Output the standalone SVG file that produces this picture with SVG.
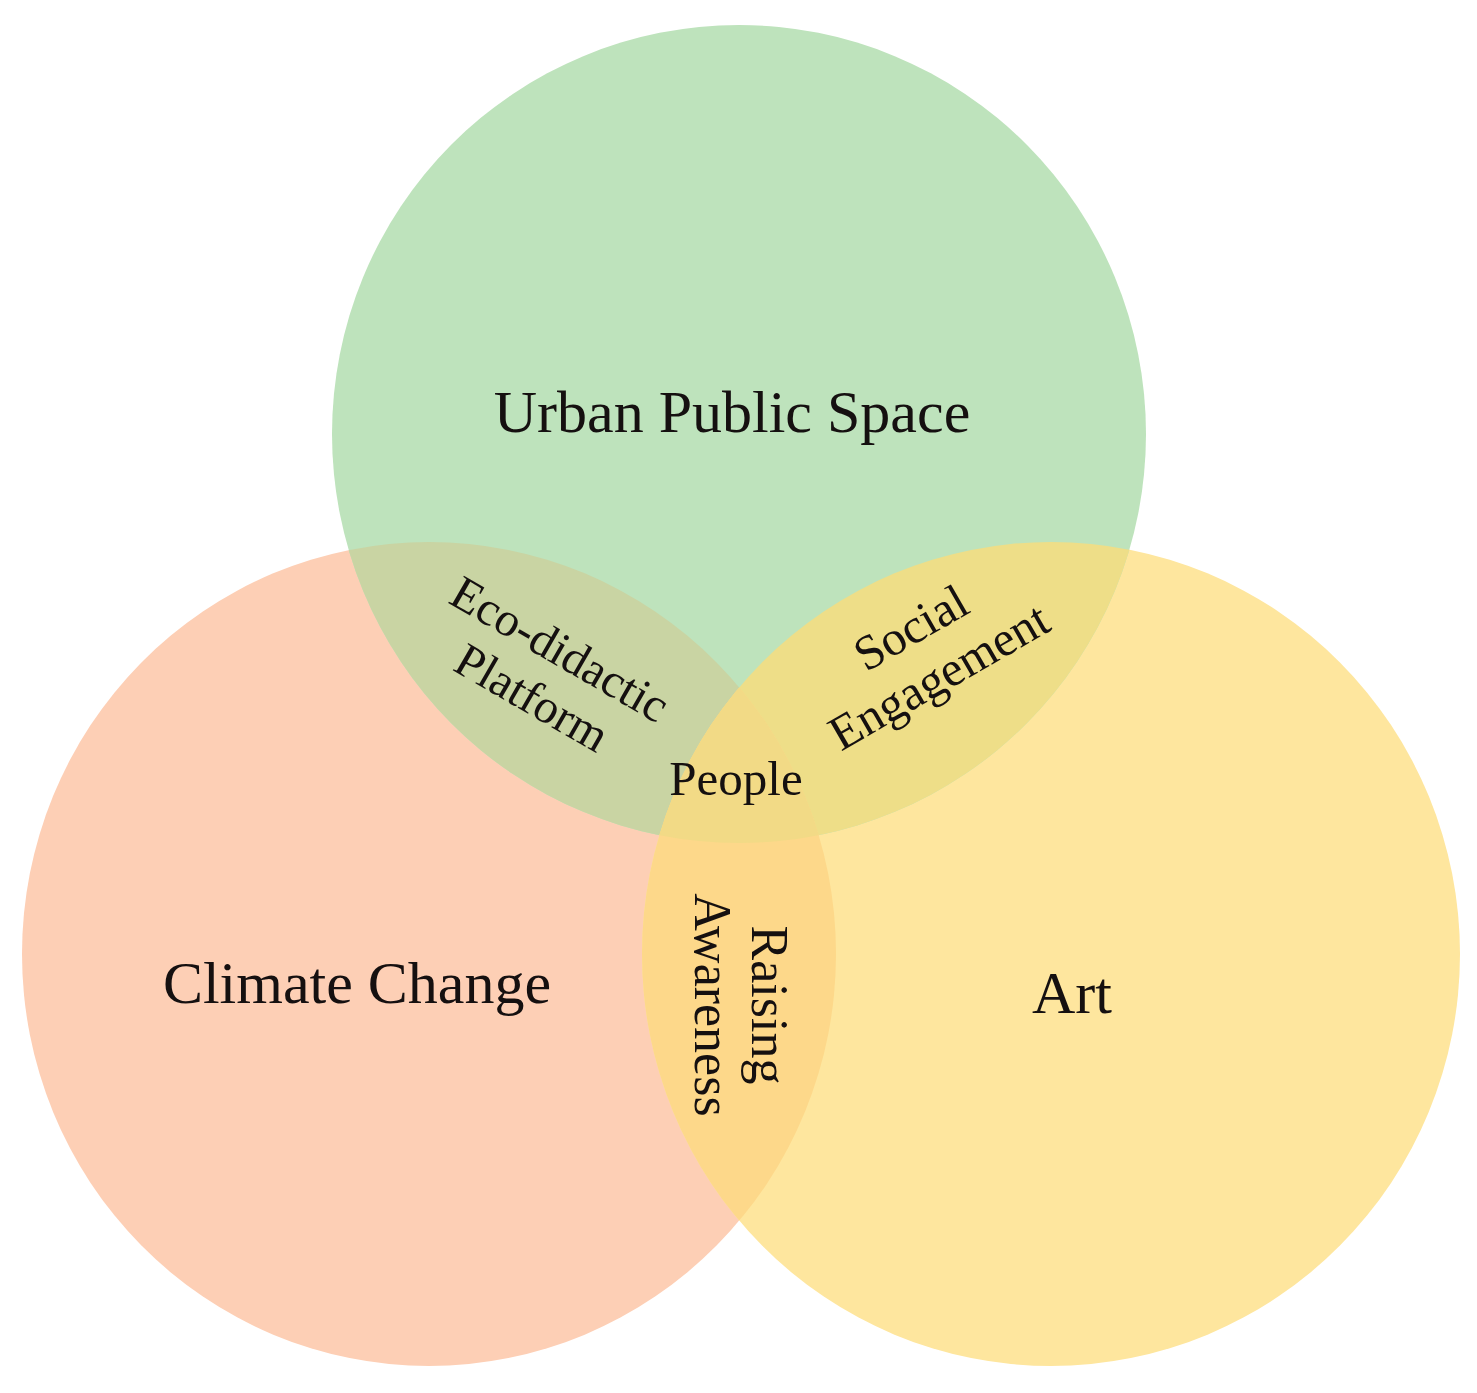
<svg xmlns="http://www.w3.org/2000/svg" width="1477" height="1393" viewBox="0 0 1477 1393">
<style>
  .lbl{font-family:"Liberation Serif","Times New Roman",serif;fill:#151010;text-anchor:middle;}
  .main{font-size:60px;}
  .sub{font-size:49px;}
</style>
<defs>
  <clipPath id="clipG"><ellipse cx="739" cy="434" rx="407" ry="409"/></clipPath>
  <clipPath id="clipO"><ellipse cx="429" cy="954" rx="407" ry="412"/></clipPath>
  <clipPath id="clipY"><ellipse cx="1051" cy="954" rx="409" ry="412"/></clipPath>
</defs>
<rect width="1477" height="1393" fill="#ffffff"/>
<g id="circles">
  <g id="climate-change-circle"><ellipse cx="429" cy="954" rx="407" ry="412" fill="#FDCFB5"/></g>
  <g id="art-circle"><ellipse cx="1051" cy="954" rx="409" ry="412" fill="#FEE69E"/></g>
  <g id="urban-public-space-circle"><ellipse cx="739" cy="434" rx="407" ry="409" fill="#BEE3BC"/></g>
</g>
<g id="overlaps">
  <g id="eco-didactic-region" clip-path="url(#clipG)"><ellipse cx="429" cy="954" rx="407" ry="412" fill="#C9D4A3"/></g>
  <g id="social-engagement-region" clip-path="url(#clipG)"><ellipse cx="1051" cy="954" rx="409" ry="412" fill="#EEDE88"/></g>
  <g id="raising-awareness-region" clip-path="url(#clipO)"><ellipse cx="1051" cy="954" rx="409" ry="412" fill="#FDD88A"/></g>
  <g id="people-region" clip-path="url(#clipG)"><g clip-path="url(#clipO)"><ellipse cx="1051" cy="954" rx="409" ry="412" fill="#F2DA86"/></g></g>
</g>
<g id="labels">
  <g id="urban-public-space"><text class="lbl main" x="732" y="432">Urban Public Space</text></g>
  <g id="climate-change"><text class="lbl main" x="357" y="1003">Climate Change</text></g>
  <g id="art"><text class="lbl main" x="1072" y="1013">Art</text></g>
  <g id="people"><text class="lbl sub" x="736" y="795">People</text></g>
  <g id="eco-didactic-platform" transform="translate(552,663) rotate(30)">
    <text class="lbl sub" x="0" y="0" style="font-size:48px">Eco-didactic</text>
    <text class="lbl sub" x="0" y="56" style="font-size:48px">Platform</text>
  </g>
  <g id="social-engagement" transform="translate(919,642) rotate(-30)">
    <text class="lbl sub" x="0" y="0">Social</text>
    <text class="lbl sub" x="0" y="56">Engagement</text>
  </g>
  <g id="raising-awareness" transform="translate(752,1005) rotate(90)">
    <text class="lbl sub" x="0" y="0" style="font-size:52px">Raising</text>
    <text class="lbl sub" x="0" y="57" style="font-size:52px">Awareness</text>
  </g>
</g>
</svg>
